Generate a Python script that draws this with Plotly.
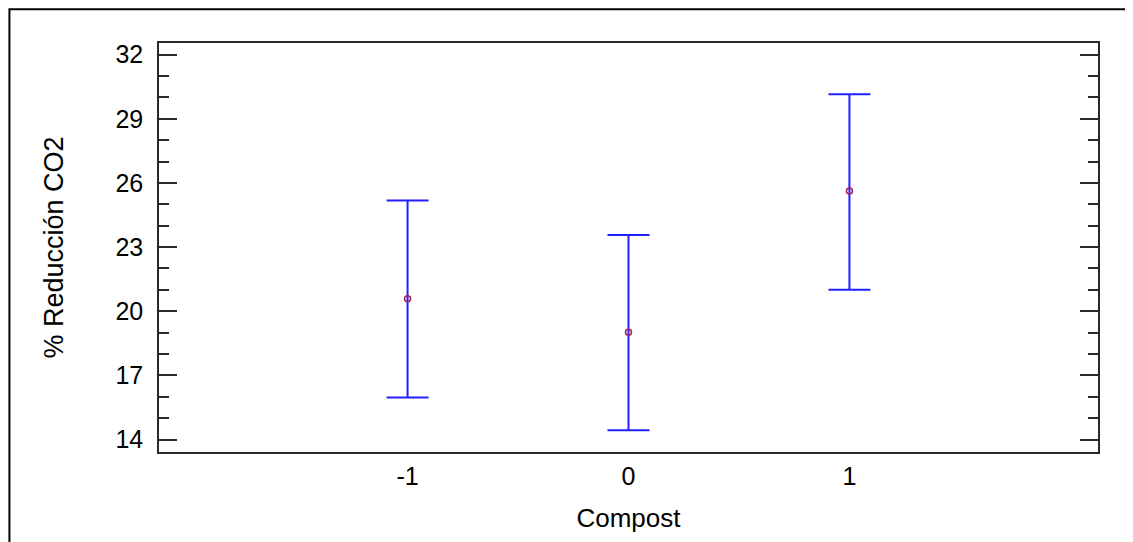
import plotly.graph_objects as go

compost_levels = [-1, 0, 1]
mean_reduction = [20.58, 19.02, 25.62]
lower_limit = [15.96, 14.43, 21.01]
upper_limit = [25.18, 23.57, 30.15]
y_tick_values = [14, 17, 20, 23, 26, 29, 32]
x_tick_values = [-1, 0, 1]

err_plus = [u - m for u, m in zip(upper_limit, mean_reduction)]
err_minus = [m - l for m, l in zip(mean_reduction, lower_limit)]

# page body has an 8px margin; size the figure so it fits the window exactly
W, H = 1125, 534
ml, mr, mt, mb = 150.5, 34.7, 34.7, 89.7

fig = go.Figure()
fig.add_trace(go.Scatter(
    x=compost_levels, y=mean_reduction, mode="markers",
    marker=dict(symbol="circle-open", size=6, color="#a0205a", line=dict(width=1.5)),
    error_y=dict(type="data", symmetric=False, array=err_plus, arrayminus=err_minus,
                 color="#2020ff", thickness=2, width=21),
    showlegend=False, hoverinfo="skip",
))

axis_col = "#2a2a2a"
fig.update_layout(
    width=W, height=H,
    margin=dict(l=ml, r=mr, t=mt, b=mb, autoexpand=False),
    paper_bgcolor="white", plot_bgcolor="white",
    font=dict(family="Liberation Sans, Arial, sans-serif", size=25, color="black"),
    xaxis=dict(
        range=[-2.125, 2.125], tickvals=x_tick_values, ticktext=[str(v) for v in x_tick_values],
        ticks="", showgrid=False, zeroline=False,
        showline=True, linecolor=axis_col, linewidth=1.6, mirror=True,
        tickfont=dict(size=25), ticklabelstandoff=1,
        title=dict(text="Compost", font=dict(size=26), standoff=20),
    ),
    yaxis=dict(
        range=[13.416, 32.546], tickvals=y_tick_values,
        ticks="inside", ticklen=18, tickwidth=1.6, tickcolor=axis_col,
        minor=dict(dtick=1, tick0=14, ticks="inside", ticklen=10, tickwidth=1.6, tickcolor=axis_col, showgrid=False),
        showgrid=False, zeroline=False,
        showline=True, linecolor=axis_col, linewidth=1.6, mirror="ticks",
        tickfont=dict(size=25), ticklabelstandoff=9,
        title=dict(text="% Reducción CO2", font=dict(size=27), standoff=44),
    ),
)

pw = W - ml - mr
ph = H - mt - mb
def px_x(px):
    return (px - ml) / pw
def px_y(py):
    return (H - mb - py) / ph

fig.add_shape(type="rect", xref="paper", yref="paper",
              x0=px_x(0.8), x1=px_x(1140), y0=px_y(560), y1=px_y(0.8),
              line=dict(color="black", width=2), fillcolor="rgba(0,0,0,0)", layer="below")

fig.write_html("out.html")
